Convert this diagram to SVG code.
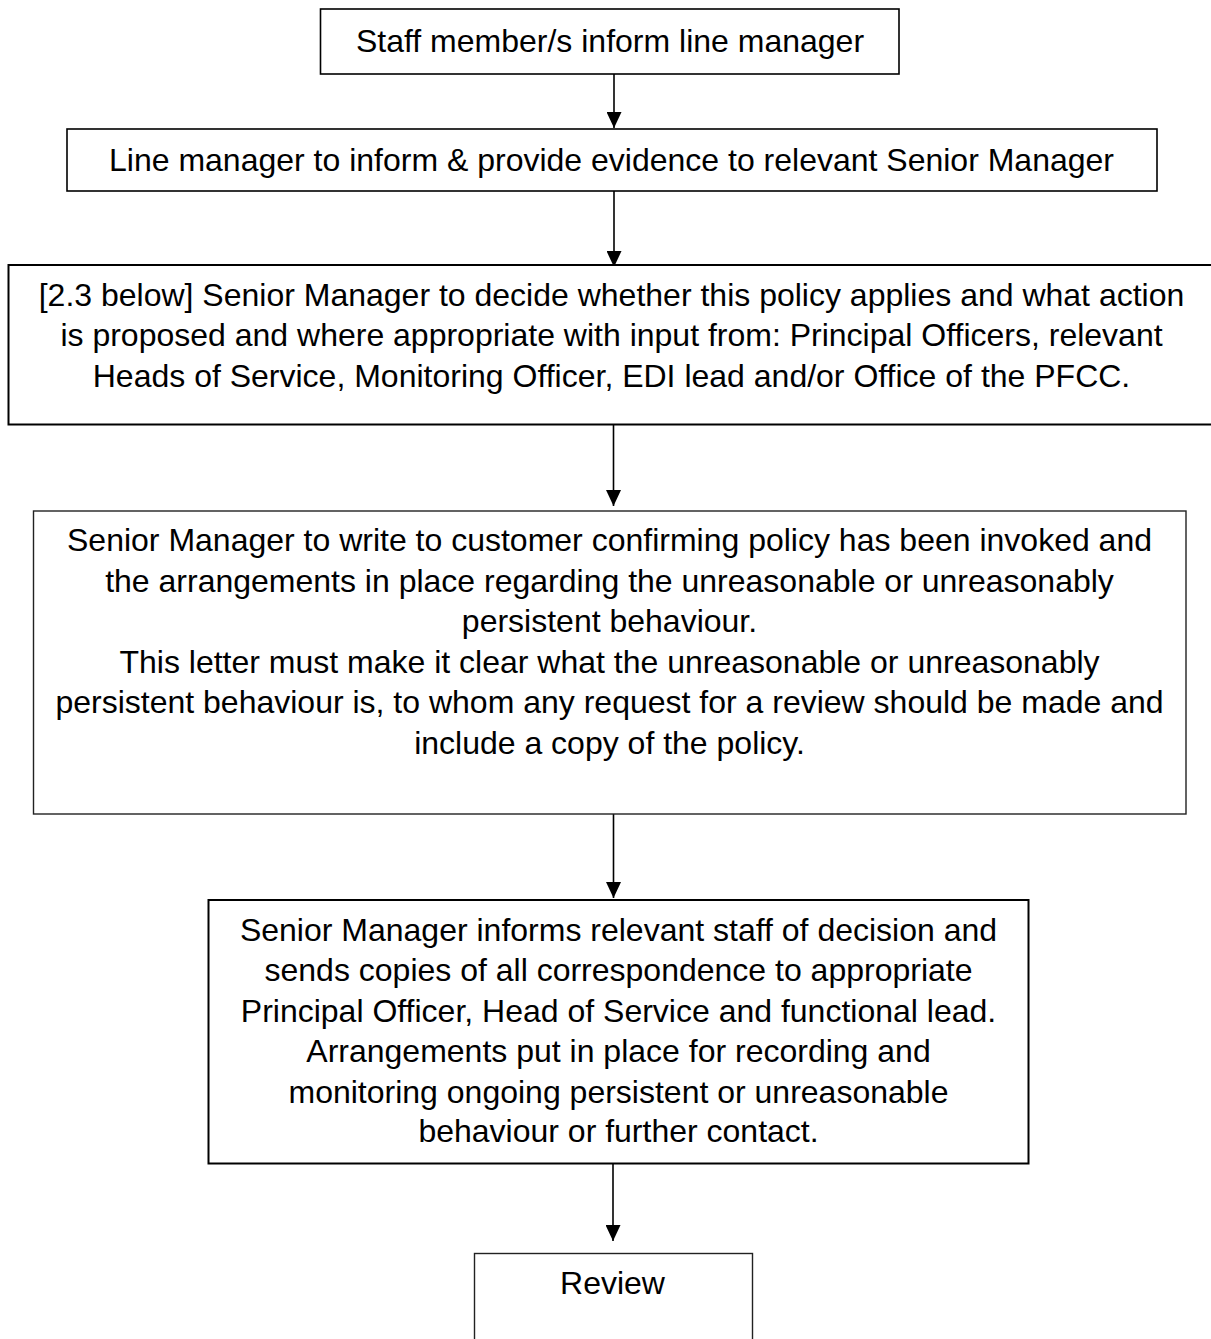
<svg xmlns="http://www.w3.org/2000/svg" width="1211" height="1339" viewBox="0 0 1211 1339">
  <style>
    .box { fill: #ffffff; stroke: #000000; stroke-width: 1.6; }
    .thick { stroke-width: 2; }
    .thin { stroke: #222222; stroke-width: 1.4; }
    .lbl { font-family: "Liberation Sans", Arial, Helvetica, sans-serif; font-size: 32px; fill: #000000; text-anchor: middle; }
    .conn { stroke: #000000; stroke-width: 1.6; fill: none; }
  </style>
  <defs>
    <marker id="arrow" markerUnits="userSpaceOnUse" viewBox="0 0 16 15" refX="16" refY="7.5" markerWidth="16" markerHeight="15" orient="auto">
      <path d="M0,0 L16,7.5 L0,15 Z" fill="#000000"/>
    </marker>
  </defs>
  <rect x="0" y="0" width="1211" height="1339" fill="#ffffff"/>

  <g id="connectors">
    <path class="conn" d="M614,74 V128" marker-end="url(#arrow)"/>
    <path class="conn" d="M614,190 V267" marker-end="url(#arrow)"/>
    <path class="conn" d="M613.5,425 V506" marker-end="url(#arrow)"/>
    <path class="conn" d="M613.5,814 V898" marker-end="url(#arrow)"/>
    <path class="conn" d="M613,1164 V1241" marker-end="url(#arrow)"/>
  </g>

  <g id="node1">
    <rect class="box" x="320.5" y="9" width="578.5" height="65"/>
    <text class="lbl" x="610" y="52">Staff member/s inform line manager</text>
  </g>

  <g id="node2">
    <rect class="box" x="67" y="129" width="1090" height="62"/>
    <text class="lbl" x="611.5" y="171">Line manager to inform &amp; provide evidence to relevant Senior Manager</text>
  </g>

  <g id="node3">
    <rect class="box thick" x="8.5" y="265" width="1210" height="159.5"/>
    <text class="lbl" x="611.5" y="306">[2.3 below] Senior Manager to decide whether this policy applies and what action</text>
    <text class="lbl" x="611.5" y="346">is proposed and where appropriate with input from: Principal Officers, relevant</text>
    <text class="lbl" x="611.5" y="386.5">Heads of Service, Monitoring Officer, EDI lead and/or Office of the PFCC.</text>
  </g>

  <g id="node4">
    <rect class="box thin" x="33.5" y="511" width="1152.5" height="303"/>
    <text class="lbl" x="609.5" y="551">Senior Manager to write to customer confirming policy has been invoked and</text>
    <text class="lbl" x="609.5" y="591.5">the arrangements in place regarding the unreasonable or unreasonably</text>
    <text class="lbl" x="609.5" y="632">persistent behaviour.</text>
    <text class="lbl" x="609.5" y="672.5">This letter must make it clear what the unreasonable or unreasonably</text>
    <text class="lbl" x="609.5" y="713">persistent behaviour is, to whom any request for a review should be made and</text>
    <text class="lbl" x="609.5" y="753.5">include a copy of the policy.</text>
  </g>

  <g id="node5">
    <rect class="box thick" x="208.5" y="900" width="820" height="263.5"/>
    <text class="lbl" x="618.5" y="941">Senior Manager informs relevant staff of decision and</text>
    <text class="lbl" x="618.5" y="981">sends copies of all correspondence to appropriate</text>
    <text class="lbl" x="618.5" y="1021.5">Principal Officer, Head of Service and functional lead.</text>
    <text class="lbl" x="618.5" y="1062">Arrangements put in place for recording and</text>
    <text class="lbl" x="618.5" y="1102.5">monitoring ongoing persistent or unreasonable</text>
    <text class="lbl" x="618.5" y="1142">behaviour or further contact.</text>
  </g>

  <g id="node6">
    <rect class="box thin" x="474.5" y="1253.5" width="278" height="120"/>
    <text class="lbl" x="612.5" y="1293.5">Review</text>
  </g>
</svg>
